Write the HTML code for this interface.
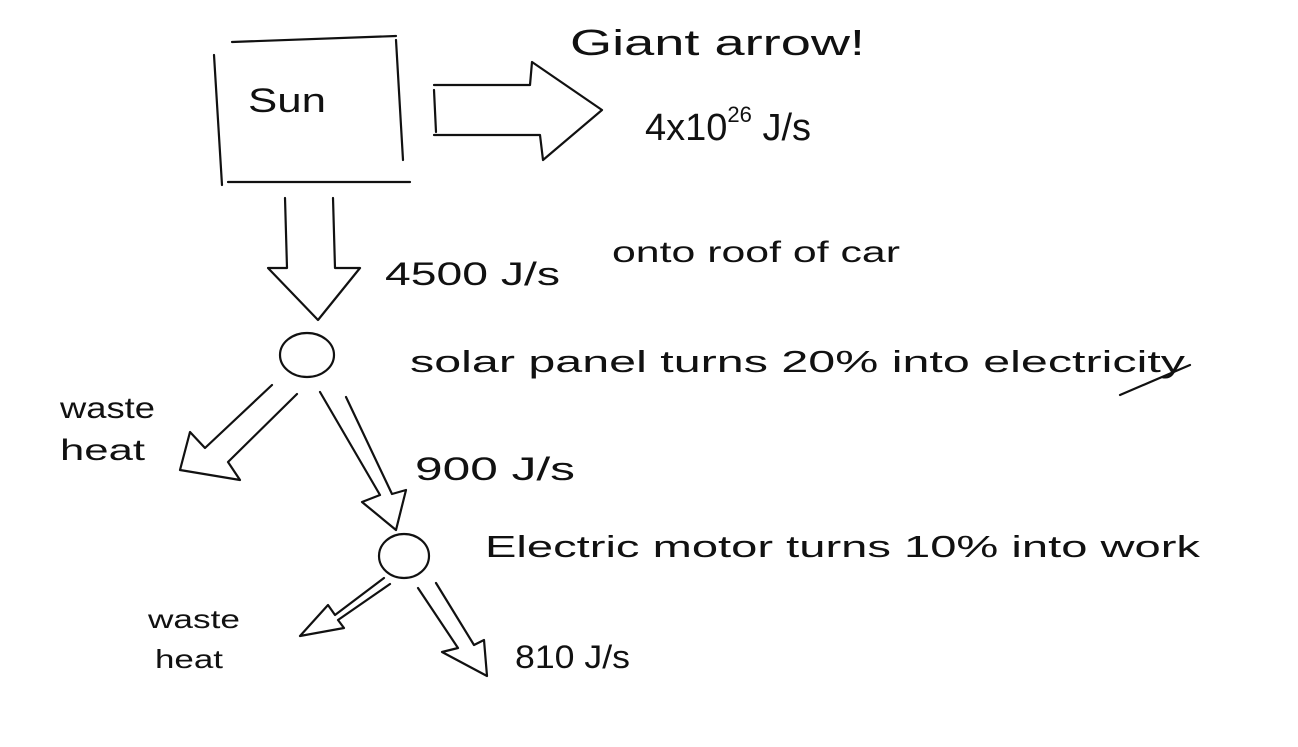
<!DOCTYPE html>
<html><head><meta charset="utf-8"><style>
html,body{margin:0;padding:0;background:#fff;}
svg{display:block}
text{font-family:"Liberation Sans",sans-serif;fill:#111;}
</style></head><body>
<svg width="1298" height="747" viewBox="0 0 1298 747" xmlns="http://www.w3.org/2000/svg">
<g fill="none" stroke="#111" stroke-width="2.2" stroke-linecap="round" stroke-linejoin="round">
<path d="M214 55 L222 185"/>
<path d="M232 42 L396 36"/>
<path d="M396 40 L403 160"/>
<path d="M228 182 L410 182"/>
<path d="M434 85 L530 85 L532 62 L602 110 L543 160 L540 135 L434 135 M434 90 L436 132"/>
<path d="M285 198 L287 268 L268 268 L318 320 L360 268 L335 268 L333 198"/>
<ellipse cx="307" cy="355" rx="27" ry="22"/>
<path d="M272 385 L205 448 L190 432 L180 470 L240 480 L228 462 L297 394"/>
<path d="M320 392 L380 495 L362 502 L396 530 L406 490 L392 494 L346 397"/>
<ellipse cx="404" cy="556" rx="25" ry="22"/>
<path d="M384 578 L335 615 L328 605 L300 636 L344 628 L338 620 L390 584"/>
<path d="M418 588 L458 648 L442 652 L487 676 L484 640 L474 645 L436 583"/>
<path d="M1120 395 L1190 365"/>
</g>
<text x="248" y="112" font-size="34" textLength="78" lengthAdjust="spacingAndGlyphs">Sun</text>
<text x="570" y="55" font-size="36" textLength="295" lengthAdjust="spacingAndGlyphs">Giant arrow!</text>
<text x="645" y="140" font-size="38">4x10<tspan font-size="22" dy="-18">26</tspan><tspan dy="18"> J/s</tspan></text>
<text x="385" y="285" font-size="32" textLength="175" lengthAdjust="spacingAndGlyphs">4500 J/s</text>
<text x="612" y="262" font-size="30" textLength="288" lengthAdjust="spacingAndGlyphs">onto roof of car</text>
<text x="410" y="372" font-size="31" textLength="775" lengthAdjust="spacingAndGlyphs">solar panel turns 20% into electricity</text>
<text x="60" y="418" font-size="30" textLength="95" lengthAdjust="spacingAndGlyphs">waste</text>
<text x="60" y="460" font-size="30" textLength="85" lengthAdjust="spacingAndGlyphs">heat</text>
<text x="415" y="480" font-size="32" textLength="160" lengthAdjust="spacingAndGlyphs">900 J/s</text>
<text x="485" y="557" font-size="31" textLength="715" lengthAdjust="spacingAndGlyphs">Electric motor turns 10% into work</text>
<text x="148" y="628" font-size="26" textLength="92" lengthAdjust="spacingAndGlyphs">waste</text>
<text x="155" y="668" font-size="26" textLength="68" lengthAdjust="spacingAndGlyphs">heat</text>
<text x="515" y="668" font-size="32" textLength="115" lengthAdjust="spacingAndGlyphs">810 J/s</text>
</svg>
</body></html>
